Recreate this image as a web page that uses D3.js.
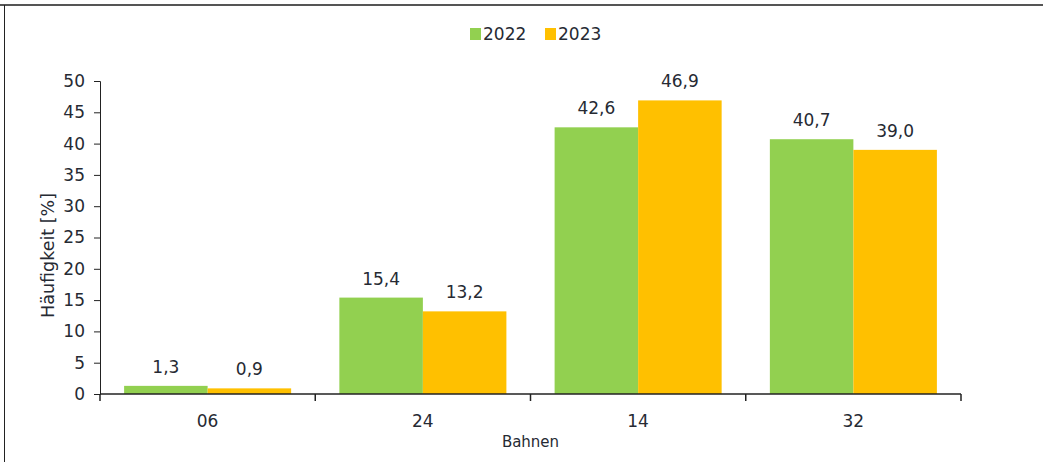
<!DOCTYPE html>
<html lang="de">
<head>
<meta charset="UTF-8">
<title>Häufigkeit Bahnen</title>
<script src="https://d3js.org/d3.v7.min.js"></script>
<style>
  body { margin: 0; background: #fff; }
  text { font-family: "DejaVu Sans", sans-serif; fill: #262a33; }
</style>
</head>
<body>
<div id="chart"></div>
<script>
// data
var categories = ["06", "24", "14", "32"];
var series = ["2022", "2023"];
var values2022 = [1.3, 15.4, 42.6, 40.7];
var values2023 = [0.9, 13.2, 46.9, 39.0];
var colors = ["#92D050", "#FFC000"];
var yTicks = [0, 5, 10, 15, 20, 25, 30, 35, 40, 45, 50];

var W = 1043, H = 462;
var margin = {top: 81, right: 82, bottom: 68, left: 100},
    width = W - margin.left - margin.right,
    height = H - margin.top - margin.bottom;

var svgRoot = d3.select("#chart").append("svg")
  .attr("width", W).attr("height", H);

// frame (top + left only, as in the picture)
svgRoot.append("line").attr("x1", 0).attr("x2", W).attr("y1", 5).attr("y2", 5)
  .attr("stroke", "#555").attr("stroke-width", 2);
svgRoot.append("line").attr("x1", 4.5).attr("x2", 4.5).attr("y1", 5).attr("y2", H)
  .attr("stroke", "#222").attr("stroke-width", 1);

var svg = svgRoot.append("g")
  .attr("transform", "translate(" + margin.left + "," + margin.top + ")");

var x0 = d3.scaleBand().domain(categories).range([0, width]).padding(0);
var pad = x0.bandwidth() * 0.112;
var x1 = d3.scaleBand().domain(series).range([pad, x0.bandwidth() - pad]).padding(0);
var y = d3.scaleLinear().domain([0, 50]).range([height, 0]);

var rows = categories.map(function(c, i) {
  return {cat: c, vals: [values2022[i], values2023[i]]};
});

var groups = svg.selectAll(".grp").data(rows).enter().append("g")
  .attr("class", "grp")
  .attr("transform", function(d) { return "translate(" + x0(d.cat) + ",0)"; });

groups.selectAll("rect").data(function(d) {
    return d.vals.map(function(v, j) { return {s: series[j], v: v, j: j}; });
  }).enter().append("rect")
  .attr("x", function(d) { return x1(d.s); })
  .attr("width", x1.bandwidth())
  .attr("y", function(d) { return y(d.v); })
  .attr("height", function(d) { return height - y(d.v); })
  .attr("fill", function(d) { return colors[d.j]; });

groups.selectAll(".lbl").data(function(d) {
    return d.vals.map(function(v, j) { return {s: series[j], v: v}; });
  }).enter().append("text")
  .attr("class", "lbl")
  .attr("x", function(d) { return x1(d.s) + x1.bandwidth() / 2; })
  .attr("y", function(d) { return y(d.v) - 13; })
  .attr("text-anchor", "middle")
  .style("font-size", "17px")
  .text(function(d) { return d.v.toFixed(1).replace(".", ","); });

// y axis
var yAxis = svg.append("g")
  .call(d3.axisLeft(y).tickValues(yTicks).tickSize(6).tickPadding(9).tickFormat(d3.format("d")));
yAxis.selectAll("text").style("font-size", "17px");
yAxis.selectAll("line, path").attr("stroke", "#222");

// x axis: ticks between categories
var xAxis = svg.append("g").attr("transform", "translate(0," + height + ")");
xAxis.append("line").attr("x1", 0).attr("x2", width).attr("stroke", "#222").attr("stroke-width", 1.5);
var bounds = categories.map(function(c) { return x0(c); }).concat([width]);
xAxis.selectAll(".tk").data(bounds).enter().append("line")
  .attr("x1", function(d) { return d; }).attr("x2", function(d) { return d; })
  .attr("y1", 0).attr("y2", 7).attr("stroke", "#222").attr("stroke-width", 1.5);
xAxis.selectAll(".cl").data(categories).enter().append("text")
  .attr("x", function(d) { return x0(d) + x0.bandwidth() / 2; })
  .attr("y", 33)
  .attr("text-anchor", "middle")
  .style("font-size", "17px")
  .text(function(d) { return d; });

// axis titles
svg.append("text")
  .attr("x", width / 2).attr("y", height + 53)
  .attr("text-anchor", "middle").style("font-size", "15px")
  .text("Bahnen");
svg.append("text")
  .attr("transform", "translate(-52," + (height / 2 + 18) + ") rotate(-90)")
  .attr("text-anchor", "middle").attr("dy", "0.35em").style("font-size", "17.5px")
  .text("Häufigkeit [%]");

// legend
var legend = svgRoot.append("g").attr("transform", "translate(470,28)");
var lx = [0, 75];
series.forEach(function(s, i) {
  legend.append("rect").attr("x", lx[i]).attr("y", 0).attr("width", 11).attr("height", 12)
    .attr("fill", colors[i]);
  legend.append("text").attr("x", lx[i] + 13).attr("y", 6).attr("dy", "0.35em")
    .style("font-size", "17px").text(s);
});
</script>
</body>
</html>
